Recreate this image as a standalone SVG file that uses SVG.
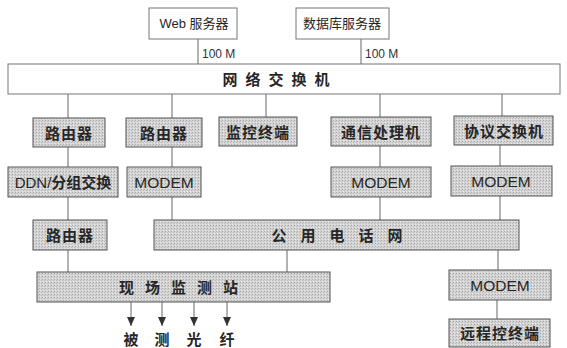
<svg xmlns="http://www.w3.org/2000/svg" width="567" height="348" viewBox="0 0 567 348">
<defs>
<pattern id="hatch" width="3" height="3" patternUnits="userSpaceOnUse">
<rect width="3" height="3" fill="#d4d4d4"/>
<rect width="1" height="1" fill="#a8a8a8"/>
<rect x="2" y="1" width="1" height="1" fill="#bcbcbc"/>
<rect x="1" y="2" width="1" height="1" fill="#e8e8e8"/>
</pattern>
<marker id="ah" viewBox="0 0 8 9" markerWidth="8" markerHeight="9" refX="4" refY="9" orient="0" markerUnits="userSpaceOnUse">
<path d="M0,0 L8,0 L4,9 Z" fill="#333"/>
</marker>
</defs>
<style>
.w{fill:#fff;stroke:#777;stroke-width:1}
.g{fill:url(#hatch);stroke:#555;stroke-width:1}
.t{font-family:"Liberation Sans","Noto Sans CJK SC",sans-serif;font-size:15px;fill:#262626;text-anchor:middle;dominant-baseline:central}
.s{font-size:13px}
.b{font-weight:bold}
.m{font-size:15.5px}
.l{font-family:"Liberation Sans",sans-serif;font-size:12px;fill:#333}
.c{stroke:#666;stroke-width:1;fill:none}
</style>
<g id="connectors">
<line class="c" x1="198" y1="39" x2="198" y2="64"/>
<line class="c" x1="361" y1="39" x2="361" y2="64"/>
<line class="c" x1="68" y1="94" x2="68" y2="118"/>
<line class="c" x1="172" y1="94" x2="172" y2="118"/>
<line class="c" x1="266" y1="94" x2="266" y2="117"/>
<line class="c" x1="380" y1="94" x2="380" y2="117"/>
<line class="c" x1="502" y1="94" x2="502" y2="116"/>
<line class="c" x1="68" y1="147" x2="68" y2="167"/>
<line class="c" x1="172" y1="147" x2="172" y2="167"/>
<line class="c" x1="380" y1="146" x2="380" y2="167"/>
<line class="c" x1="500" y1="145" x2="500" y2="166"/>
<line class="c" x1="68" y1="197" x2="68" y2="220"/>
<line class="c" x1="172" y1="197" x2="172" y2="220"/>
<line class="c" x1="380" y1="197" x2="380" y2="220"/>
<line class="c" x1="500" y1="196" x2="500" y2="220"/>
<line class="c" x1="68" y1="250" x2="68" y2="272"/>
<line class="c" x1="287" y1="250" x2="287" y2="272"/>
<line class="c" x1="498" y1="250" x2="498" y2="270"/>
<line class="c" x1="497" y1="300" x2="497" y2="319"/>
<line class="c" x1="131" y1="302" x2="131" y2="326" marker-end="url(#ah)"/>
<line class="c" x1="162" y1="302" x2="162" y2="326" marker-end="url(#ah)"/>
<line class="c" x1="194" y1="302" x2="194" y2="326" marker-end="url(#ah)"/>
<line class="c" x1="227" y1="302" x2="227" y2="326" marker-end="url(#ah)"/>
<text class="l" x="202" y="58">100 M</text>
<text class="l" x="365" y="58">100 M</text>
</g>
<g id="web"><rect class="w" x="149" y="8" width="88" height="31"/><text class="t s" x="194" y="23">Web 服务器</text></g>
<g id="db"><rect class="w" x="296" y="8" width="93" height="31"/><text class="t s" x="342" y="23">数据库服务器</text></g>
<g id="switch"><rect class="w" x="8" y="64" width="552" height="30" stroke="#888"/><text class="t b" x="280" y="79" letter-spacing="8">网络交换机</text></g>
<g id="router1"><rect class="g" x="33" y="118" width="72" height="29"/><text class="t b" x="69" y="133" letter-spacing="1">路由器</text></g>
<g id="router2"><rect class="g" x="126" y="118" width="76" height="29"/><text class="t b" x="164" y="133" letter-spacing="1">路由器</text></g>
<g id="monitor"><rect class="g" x="219" y="117" width="78" height="29"/><text class="t b" x="258" y="132" letter-spacing="1">监控终端</text></g>
<g id="comm"><rect class="g" x="331" y="117" width="100" height="29"/><text class="t b" x="381" y="132" letter-spacing="1">通信处理机</text></g>
<g id="proto"><rect class="g" x="454" y="116" width="99" height="29"/><text class="t b" x="504" y="131" letter-spacing="1">协议交换机</text></g>
<g id="ddn"><rect class="g" x="8" y="167" width="110" height="30"/><text class="t" x="63" y="182" font-size="15.5">DDN/<tspan font-weight="bold">分组交换</tspan></text></g>
<g id="modem1"><rect class="g" x="127" y="167" width="74" height="30"/><text class="t m" x="164" y="182">MODEM</text></g>
<g id="modem2"><rect class="g" x="331" y="167" width="100" height="30"/><text class="t m" x="381" y="182">MODEM</text></g>
<g id="modem3"><rect class="g" x="451" y="166" width="101" height="30"/><text class="t m" x="501" y="181">MODEM</text></g>
<g id="router3"><rect class="g" x="33" y="220" width="74" height="30"/><text class="t b" x="70" y="235" letter-spacing="1">路由器</text></g>
<g id="pstn"><rect class="g" x="154" y="220" width="365" height="30"/><text class="t b" x="344" y="235" letter-spacing="14">公用电话网</text></g>
<g id="station"><rect class="g" x="37" y="272" width="293" height="30"/><text class="t b" x="184" y="287" letter-spacing="11">现场监测站</text></g>
<g id="modem4"><rect class="g" x="449" y="270" width="102" height="30"/><text class="t m" x="500" y="285">MODEM</text></g>
<g id="remote"><rect class="g" x="449" y="319" width="101" height="28"/><text class="t b" x="500" y="333" letter-spacing="1">远程控终端</text></g>
<g id="fiber"><text class="t b" x="131" y="339">被</text><text class="t b" x="162" y="339">测</text><text class="t b" x="194" y="339">光</text><text class="t b" x="227" y="339">纤</text></g>
</svg>
